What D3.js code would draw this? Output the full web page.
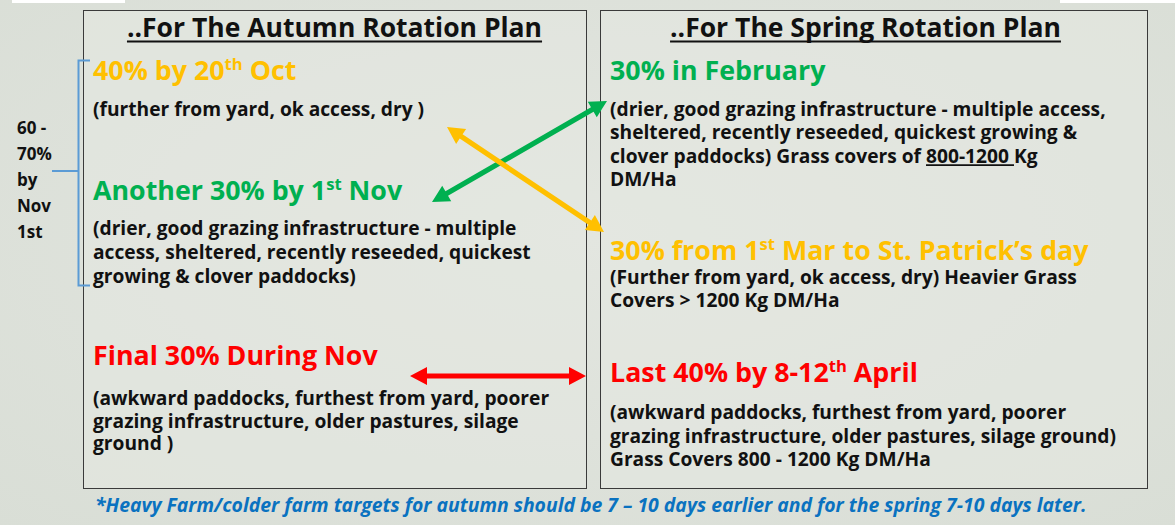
<!DOCTYPE html>
<html><head><meta charset="utf-8">
<script src="https://cdn.jsdelivr.net/npm/d3@7"></script>
<style>html,body{margin:0;padding:0;background:#dfe3dc}svg{display:block}</style>
</head><body>
<script>
// ---------------- data ----------------
const panelTitles = ["..For The Autumn Rotation Plan", "..For The Spring Rotation Plan"];
const autumnHeadings = ["40% by 20^th^ Oct", "Another 30% by 1^st^ Nov", "Final 30% During Nov"];
const autumnShares = ["orange", "green", "red"];
const autumnNotes = [
  ["(further from yard, ok access, dry )"],
  ["(drier, good grazing infrastructure - multiple", "access, sheltered, recently reseeded, quickest", "growing & clover paddocks)"],
  ["(awkward paddocks, furthest from yard, poorer", "grazing infrastructure, older pastures, silage", "ground )"]
];
const springHeadings = ["30% in February", "30% from 1^st^ Mar to St. Patrick’s day", "Last 40% by 8-12^th^ April"];
const springShares = ["green", "orange", "red"];
const springNotes = [
  ["(drier, good grazing infrastructure - multiple access,", "sheltered, recently reseeded, quickest growing &", "clover paddocks) Grass covers of _800-1200 _Kg", "DM/Ha"],
  ["(Further from yard, ok access, dry) Heavier Grass", "Covers > 1200 Kg DM/Ha"],
  ["(awkward paddocks, furthest from yard, poorer", "grazing infrastructure, older pastures, silage ground)", "Grass Covers 800 - 1200 Kg DM/Ha"]
];
const bracketLabel = ["60 -", "70%", "by", "Nov", "1st"];
// links: autumn group index -> spring group index
const linkFrom = [1, 0, 2];
const linkTo = [0, 1, 2];
const footnote = "*Heavy Farm/colder farm targets for autumn should be 7 – 10 days earlier and for the spring 7-10 days later.";

// ---------------- style / layout ----------------
const W = 1175, H = 525;
const palette = {orange: "#ffc000", green: "#00b050", red: "#ff0000"};
const FONT = "'Open Sans', Lato, sans-serif";

const svg = d3.select("body").append("svg").attr("width", W).attr("height", H);

const defs = svg.append("defs");
const grad = defs.append("radialGradient").attr("id", "bg").attr("cx", "50%").attr("cy", "45%").attr("r", "75%");
grad.append("stop").attr("offset", "0%").attr("stop-color", "#e3e6e0");
grad.append("stop").attr("offset", "100%").attr("stop-color", "#d9ded6");
svg.append("rect").attr("width", W).attr("height", H).attr("fill", "url(#bg)");

// small white logo tabs at top corners
svg.append("rect").attr("x", 12).attr("y", 0).attr("width", 113).attr("height", 3).attr("fill", "#ffffff");
svg.append("rect").attr("x", 1060).attr("y", 0).attr("width", 115).attr("height", 3).attr("fill", "#ffffff");

const panels = [
  {x0: 83, x1: 586, tx: 93, title: panelTitles[0], heads: autumnHeadings, shares: autumnShares, notes: autumnNotes,
   headY: [80, 200, 365], noteY: [116, 235, 405], noteGap: [23, 24, 22.5], tOff: 0},
  {x0: 600, x1: 1147, tx: 610, title: panelTitles[1], heads: springHeadings, shares: springShares, notes: springNotes,
   headY: [80, 260, 382], noteY: [116, 284, 419], noteGap: [23.3, 23.3, 23.5], tOff: -8}
];
const boxY0 = 10, boxY1 = 488;
const SIZE_TITLE = 26.5, SIZE_HEAD = 26.8, SIZE_BODY = 19.2, SIZE_FOOT = 19.4;

// one <text> per block; each line is a tspan row; ^..^ = superscript, _.._ = underline
function richBlock(sel, lines, x, y, gap, size, color) {
  const t = sel.append("text").attr("x", x).attr("y", y)
    .attr("font-family", FONT).attr("font-weight", 700)
    .attr("font-size", size).attr("fill", color);
  const unders = [];
  lines.forEach((str, li) => {
    const parts = str.split(/(\^[^^]*\^|_[^_]*_)/).filter(s => s.length);
    let shift = 0;
    parts.forEach((p, pi) => {
      const ts = t.append("tspan");
      if (pi === 0) ts.attr("x", x).attr("y", y + li * gap);
      if (p[0] === "^") {
        ts.attr("dy", -size * 0.36).attr("font-size", size * 0.62).text(p.slice(1, -1));
        shift = size * 0.36;
      } else if (p[0] === "_") {
        if (shift) ts.attr("dy", shift);
        ts.text(p.slice(1, -1));
        shift = 0;
        unders.push({ts, y: y + li * gap});
      } else {
        if (shift) ts.attr("dy", shift);
        ts.text(p);
        shift = 0;
      }
    });
  });
  unders.forEach(u => {
    const b = u.ts.node().getBBox();
    sel.append("line").attr("x1", b.x).attr("x2", b.x + b.width)
      .attr("y1", u.y + 2.5).attr("y2", u.y + 2.5).attr("stroke", color).attr("stroke-width", 1.6);
  });
  return t;
}

panels.forEach(p => {
  const g = svg.append("g");
  g.append("rect").attr("x", p.x0 + 0.5).attr("y", boxY0 + 0.5)
    .attr("width", p.x1 - p.x0).attr("height", boxY1 - boxY0)
    .attr("fill", "#e4e7e1").attr("fill-opacity", 0.6)
    .attr("stroke", "#3a3a3a").attr("stroke-width", 1);
  const cx = (p.x0 + p.x1) / 2 + p.tOff;
  const tt = g.append("text").attr("x", cx).attr("y", 37).attr("text-anchor", "middle")
    .attr("font-family", FONT).attr("font-weight", 700).attr("font-size", SIZE_TITLE).attr("fill", "#111")
    .text(p.title);
  const b = tt.node().getBBox();
  g.append("line").attr("x1", b.x).attr("x2", b.x + b.width).attr("y1", 41.5).attr("y2", 41.5)
    .attr("stroke", "#111").attr("stroke-width", 2);
  p.heads.forEach((h, i) => {
    richBlock(g, [h], p.tx, p.headY[i], 0, SIZE_HEAD, palette[p.shares[i]]);
    richBlock(g, p.notes[i], p.tx, p.noteY[i], p.noteGap[i], SIZE_BODY, "#111");
  });
});

// bracket
const bracketColor = "#5b9bd5";
svg.append("path")
  .attr("d", "M90,60.5 H78.5 V285.5 H90 M78.5,171 H52")
  .attr("fill", "none").attr("stroke", bracketColor).attr("stroke-width", 2);
const bl = svg.append("text").attr("font-family", FONT).attr("font-weight", 700)
  .attr("font-size", 17).attr("fill", "#111");
bracketLabel.forEach((s, i) => {
  bl.append("tspan").attr("x", 17).attr("y", 134 + i * 26).text(s);
});

// arrows
const arrowEnds = [
  {a: [432, 202], b: [607, 101]},
  {a: [447, 127], b: [604, 232]},
  {a: [410, 376], b: [586, 376]}
];
function doubleArrow(a, b, color) {
  const dx = b[0] - a[0], dy = b[1] - a[1];
  const L = Math.hypot(dx, dy), ux = dx / L, uy = dy / L;
  const nx = -uy, ny = ux;
  const hl = 17, hw = 9, sw = 2.6;
  const pt = (s, n) => [a[0] + ux * s + nx * n, a[1] + uy * s + ny * n];
  const poly = [
    pt(0, 0), pt(hl, hw), pt(hl, sw), pt(L - hl, sw), pt(L - hl, hw), pt(L, 0),
    pt(L - hl, -hw), pt(L - hl, -sw), pt(hl, -sw), pt(hl, -hw)
  ];
  svg.append("path").attr("d", d3.line()(poly) + "Z").attr("fill", color);
}
linkFrom.forEach((f, i) => {
  doubleArrow(arrowEnds[i].a, arrowEnds[i].b, palette[autumnShares[f]]);
});

// footnote
svg.append("text").attr("x", 95).attr("y", 512)
  .attr("font-family", FONT).attr("font-weight", 700).attr("font-style", "italic")
  .attr("font-size", SIZE_FOOT).attr("fill", "#0a72c0").text(footnote);
</script>
</body></html>
